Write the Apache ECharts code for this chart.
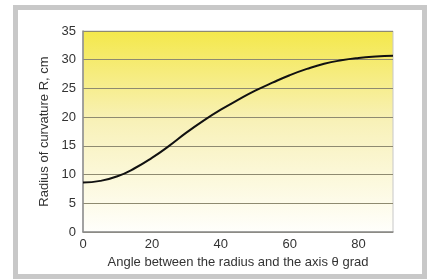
<!DOCTYPE html>
<html>
<head>
<meta charset="utf-8">
<script src="https://cdn.jsdelivr.net/npm/echarts@6/dist/echarts.min.js"></script>
<style>
  html, body { margin: 0; padding: 0; background: #fff; }
  #chart { width: 428px; height: 280px; }
</style>
</head>
<body>
<div id="chart"></div>
<script>
// angle theta, grad
const angles = [0, 5, 10, 15, 20, 25, 30, 35, 40, 45, 50, 55, 60, 65, 70, 75, 80, 85, 90]
// radius of curvature R, cm
const radius = [8.6, 8.9, 9.7, 11.1, 12.9, 15.0, 17.3, 19.4, 21.3, 23.0, 24.6, 26.0, 27.3, 28.4, 29.3, 29.9, 30.3, 30.55, 30.7]

const font = '"Liberation Sans", Arial, sans-serif'

const chart = echarts.init(document.getElementById('chart'), null, { renderer: 'canvas' })

chart.setOption({
  animation: false,
  backgroundColor: '#fff',
  graphic: [
    { // outer grey frame
      type: 'rect',
      shape: { x: 15.5, y: 7.5, width: 409, height: 269 },
      style: { fill: 'none', stroke: '#c8c8c8', lineWidth: 5 },
      z: -1
    }
  ],
  grid: {
    left: 83,
    top: 31,
    right: 35,
    bottom: 48,
    show: true,
    borderColor: '#c8c8c8',
    borderWidth: 1,
    backgroundColor: new echarts.graphic.LinearGradient(0, 0, 0, 1, [
      { offset: 0, color: '#f4e84a' },
      { offset: 0.45, color: '#f8f1b8' },
      { offset: 1, color: '#fffffc' }
    ])
  },
  xAxis: {
    type: 'value',
    min: 0,
    max: 90,
    interval: 20,
    name: 'Angle between the radius and the axis θ grad',
    nameLocation: 'middle',
    nameGap: 23,
    nameTextStyle: { color: '#333', fontSize: 13, fontFamily: font },
    axisLine: { lineStyle: { color: '#8c8c8c', width: 1.5 } },
    axisTick: { show: false },
    axisLabel: {
      color: '#333', fontSize: 13, fontFamily: font, margin: 6,
      showMaxLabel: false
    },
    splitLine: { show: false }
  },
  yAxis: {
    type: 'value',
    min: 0,
    max: 35,
    interval: 5,
    name: 'Radius of curvature R, cm',
    nameLocation: 'middle',
    nameGap: 27,
    nameRotate: 90,
    nameTextStyle: { color: '#333', fontSize: 13, fontFamily: font },
    axisLine: { show: true, lineStyle: { color: '#8c8c8c', width: 1.5 } },
    axisTick: { show: false },
    axisLabel: { color: '#333', fontSize: 13, fontFamily: font, margin: 7 },
    splitLine: { lineStyle: { color: '#8e8a70', width: 1 } }
  },
  series: [
    {
      type: 'line',
      data: angles.map((a, i) => [a, radius[i]]),
      smooth: true,
      showSymbol: false,
      lineStyle: { color: '#111', width: 2 }
    }
  ]
})
</script>
</body>
</html>
